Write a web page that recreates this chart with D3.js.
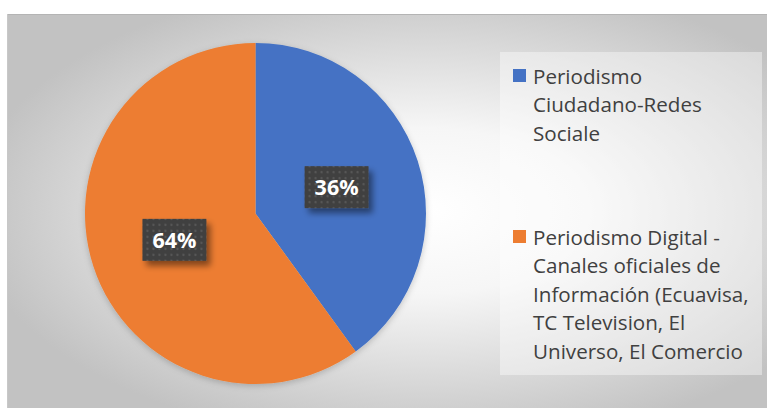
<!DOCTYPE html>
<html>
<head>
<meta charset="utf-8">
<script src="https://cdn.jsdelivr.net/npm/d3@7"></script>
<style>
  body { margin: 0; background: #fff; }
  svg { display: block; }
</style>
</head>
<body>
<svg id="chart" width="767" height="408"></svg>
<script>
const width = 767, height = 408;
const svg = d3.select("#chart");

// data
const categories = [
  "Periodismo Ciudadano-Redes Sociale",
  "Periodismo Digital - Canales oficiales de Información (Ecuavisa, TC Television, El Universo, El Comercio"
];
const sliceValues = [40, 60];          // slice sizes as drawn
const labelTexts = ["36%", "64%"];     // data labels as printed
const legendLines = [
  ["Periodismo", "Ciudadano-Redes", "Sociale"],
  ["Periodismo Digital -", "Canales oficiales de", "Información (Ecuavisa,", "TC Television, El", "Universo, El Comercio"]
];
const colors = ["#4472c4", "#ed7d31"];

const defs = svg.append("defs");
let bg = defs.append("radialGradient").attr("id", "bg")
  .attr("cx", "55%").attr("cy", "50%").attr("r", "60%");
bg.append("stop").attr("offset", "0%").attr("stop-color", "#ffffff");
bg.append("stop").attr("offset", "35%").attr("stop-color", "#f6f6f6");
bg.append("stop").attr("offset", "100%").attr("stop-color", "#c2c2c2");

let dots = defs.append("pattern").attr("id", "dots")
  .attr("width", 6).attr("height", 6).attr("patternUnits", "userSpaceOnUse");
dots.append("rect").attr("width", 6).attr("height", 6).attr("fill", "#404040");
dots.append("circle").attr("cx", 3).attr("cy", 3).attr("r", 1.2).attr("fill", "#575757");

let sh = defs.append("filter").attr("id", "shadow")
  .attr("x", "-20%").attr("y", "-20%").attr("width", "160%").attr("height", "160%");
sh.append("feDropShadow").attr("dx", 4).attr("dy", 5).attr("stdDeviation", 3)
  .attr("flood-color", "#000").attr("flood-opacity", 0.45);

let psh = defs.append("filter").attr("id", "pshadow")
  .attr("x", "-10%").attr("y", "-10%").attr("width", "120%").attr("height", "120%");
psh.append("feDropShadow").attr("dx", 0).attr("dy", 2).attr("stdDeviation", 3)
  .attr("flood-color", "#000").attr("flood-opacity", 0.2);

// chart area
svg.append("rect").attr("x", 7).attr("y", 14).attr("width", width - 7).attr("height", height - 14)
  .attr("fill", "url(#bg)");
svg.append("line").attr("x1", 7).attr("x2", width).attr("y1", 14.5).attr("y2", 14.5)
  .attr("stroke", "#b4b4b4");
svg.append("line").attr("x1", 7.5).attr("x2", 7.5).attr("y1", 14).attr("y2", height)
  .attr("stroke", "#c8c8c8");

// pie
const cx = 255.5, cy = 213.5, r = 170.5;
const pie = d3.pie().sort(null).value(d => d);
const arc = d3.arc().innerRadius(0).outerRadius(r);
const arcs = pie(sliceValues);

const g = svg.append("g").attr("transform", `translate(${cx},${cy})`);
g.append("g").attr("filter", "url(#pshadow)")
  .selectAll("path").data(arcs).enter()
  .append("path")
  .attr("d", arc)
  .attr("fill", (d, i) => colors[i]);

// data labels
const lab = g.selectAll(".lab").data(arcs).enter()
  .append("g").attr("class", "lab")
  .attr("transform", d => `translate(${arc.centroid(d)})`);
lab.append("rect")
  .attr("x", -32).attr("y", -21).attr("width", 64).attr("height", 42)
  .attr("fill", "url(#dots)")
  .attr("filter", "url(#shadow)");
lab.append("text")
  .attr("text-anchor", "middle").attr("dy", "0.36em")
  .attr("fill", "#fff")
  .attr("font-family", "'Open Sans', Lato, sans-serif")
  .attr("font-weight", "bold")
  .attr("font-size", 21.5)
  .text((d, i) => labelTexts[i]);

// legend
svg.append("rect").attr("x", 500).attr("y", 52).attr("width", 262).attr("height", 323)
  .attr("fill", "#ffffff").attr("opacity", 0.4);

const legendTops = [69, 230];
const legend = svg.selectAll(".leg").data(categories).enter()
  .append("g").attr("class", "leg")
  .attr("transform", (d, i) => `translate(513,${legendTops[i]})`);
legend.append("rect").attr("width", 13).attr("height", 13)
  .attr("fill", (d, i) => colors[i]);
legend.append("text")
  .attr("x", 20).attr("y", 14.5)
  .attr("fill", "#404040")
  .attr("font-family", "'Open Sans', Lato, sans-serif")
  .attr("font-size", 20.6)
  .selectAll("tspan").data((d, i) => legendLines[i]).enter()
  .append("tspan")
  .attr("x", 20)
  .attr("dy", (d, j) => j === 0 ? 0 : 28.6)
  .text(d => d);
</script>
</body>
</html>
